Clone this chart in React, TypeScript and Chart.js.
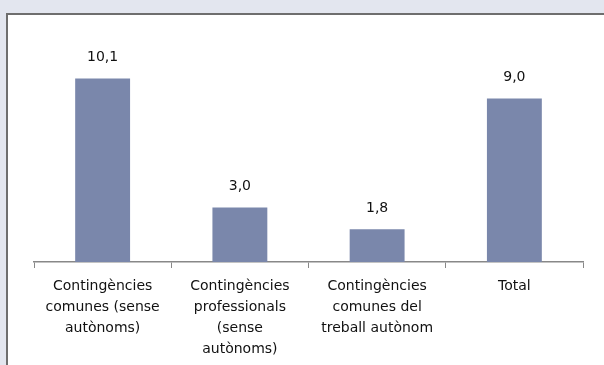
import React, { useEffect, useRef } from "react";
import { Chart, registerables } from "chart.js";

Chart.register(...registerables);

const categories: string[][] = [
  ["Contingències", "comunes (sense", "autònoms)"],
  ["Contingències", "professionals", "(sense", "autònoms)"],
  ["Contingències", "comunes del", "treball autònom"],
  ["Total"],
];
const values: number[] = [10.1, 3.0, 1.8, 9.0];

const FONT = "'DejaVu Sans', sans-serif";

const valueLabels = {
  id: "valueLabels",
  afterDatasetsDraw(chart: any) {
    const ctx = chart.ctx;
    const meta = chart.getDatasetMeta(0);
    ctx.save();
    ctx.font = `14px ${FONT}`;
    ctx.fillStyle = "#111";
    ctx.textAlign = "center";
    ctx.textBaseline = "middle";
    meta.data.forEach((bar: any, i: number) => {
      const v = chart.data.datasets[0].data[i] as number;
      ctx.fillText(v.toFixed(1).replace(".", ","), bar.x, bar.y - 21);
    });
    ctx.restore();
  },
};

export default function App() {
  const ref = useRef<HTMLCanvasElement | null>(null);

  useEffect(() => {
    if (!ref.current) return;
    const chart = new Chart(ref.current, {
      type: "bar",
      data: {
        labels: categories,
        datasets: [
          {
            data: values,
            backgroundColor: "#7a87ab",
            categoryPercentage: 1,
            barPercentage: 0.4,
          },
        ],
      },
      options: {
        responsive: false,
        animation: false,
        layout: { padding: { left: 34, right: 21, top: 44, bottom: 0 } },
        plugins: {
          legend: { display: false },
          tooltip: { enabled: false },
        },
        scales: {
          x: {
            offset: true,
            afterFit: (scale: any) => {
              scale.height = 103;
            },
            grid: {
              display: true,
              offset: true,
              drawOnChartArea: false,
              drawTicks: true,
              tickLength: 6,
              color: "#888888",
            },
            border: { display: true, color: "#888888", width: 1.5 },
            ticks: {
              autoSkip: false,
              maxRotation: 0,
              padding: 8,
              color: "#111",
              font: { family: FONT, size: 14, lineHeight: 1.5 },
            },
          },
          y: {
            display: false,
            min: 0,
            max: 12,
          },
        },
      },
      plugins: [valueLabels],
    });
    return () => chart.destroy();
  }, []);

  return (
    <div
      style={{
        position: "absolute",
        left: 0,
        top: 0,
        width: 604,
        height: 365,
        background: "#e3e6ef",
        overflow: "hidden",
      }}
    >
      <div
        style={{
          position: "absolute",
          left: 6,
          top: 13,
          width: 640,
          height: 400,
          background: "#ffffff",
          border: "2px solid #6e6e6e",
        }}
      />
      <canvas
        ref={ref}
        width={604}
        height={365}
        style={{ position: "absolute", left: 0, top: 0, width: 604, height: 365 }}
      />
    </div>
  );
}
